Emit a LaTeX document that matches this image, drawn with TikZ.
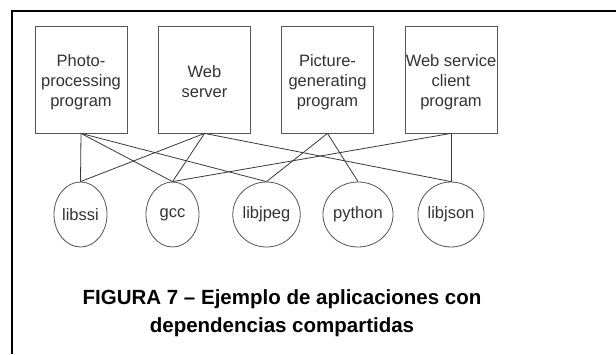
\documentclass[tikz,border=0pt]{standalone}
\usepackage{fontspec}
\setmainfont{Liberation Sans}
\usetikzlibrary{shapes.geometric}
\definecolor{boxgray}{HTML}{555555}
\definecolor{linegray}{HTML}{3A3A3A}
\definecolor{txtgray}{HTML}{333333}
\begin{document}
\begin{tikzpicture}[x=1pt,y=-1pt,
  app/.style={draw=boxgray, line width=0.8pt, minimum width=92pt, minimum height=107pt,
    inner sep=0pt, align=center, text=txtgray},
  apptext/.style={align=center, inner sep=0pt, font=\fontsize{16.5}{20}\selectfont, text=txtgray},
  lib/.style={ellipse, draw=boxgray, line width=0.8pt, minimum width=53pt, minimum height=65pt,
    inner sep=0pt, font=\fontsize{16.5}{20}\selectfont, text=txtgray},
  dep/.style={draw=linegray, line width=0.8pt},
  frameline/.style={draw=black, line width=1.6pt},
  caption/.style={align=center, font=\bfseries\fontsize{20.5}{28}\selectfont, text=black}]
\useasboundingbox (0,0) rectangle (616,354);
\fill[white] (0,0) rectangle (616,354);
\draw[frameline] (616,11) -- (12,11) -- (12,354);

\node[app] (p1) at (81,79.5) {};
\node[app] (p2) at (204.5,79.5) {};
\node[app] (p3) at (327.5,79.5) {};
\node[app] (p4) at (451,79.5) {};
\node[apptext] (t1) at (81,82) {Photo-\\processing\\program};
\node[apptext] (t2) at (204.5,82) {Web\\server};
\node[apptext] (t3) at (327.5,82) {Picture-\\generating\\program};
\node[apptext] (t4) at (451,82) {Web service\\client\\program};

\node[lib] (l1) at (80.5,214.5) {libssi};
\node[lib] (l2) at (172.5,214.5) {gcc};
\node[lib] (l3) at (266.5,214.5) {libjpeg};
\node[lib] (l4) at (358,214.5) {python};
\node[lib] (l5) at (451,214.5) {libjson};

\draw[dep] (p1.south) -- (l1.north);
\draw[dep] (p1.south) -- (l2.north);
\draw[dep] (p1.south) -- (l3.north);
\draw[dep] (p2.south) -- (l1.north);
\draw[dep] (p2.south) -- (l2.north);
\draw[dep] (p2.south) -- (l5.north);
\draw[dep] (p3.south) -- (l3.north);
\draw[dep] (p3.south) -- (l4.north);
\draw[dep] (p4.south) -- (l2.north);
\draw[dep] (p4.south) -- (l5.north);

\node[caption] (cap) at (282,313) {FIGURA 7 – Ejemplo de aplicaciones con\\dependencias compartidas};
\end{tikzpicture}
\end{document}
